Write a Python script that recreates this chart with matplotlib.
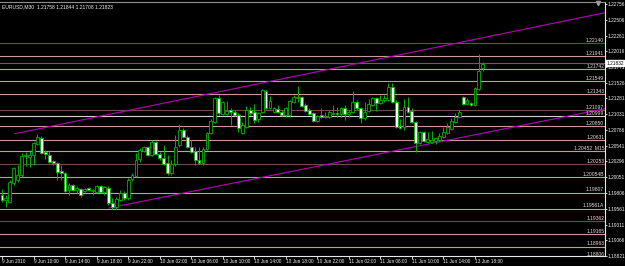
import matplotlib
matplotlib.use("Agg")
import matplotlib.pyplot as plt
import numpy as np

plt.rcParams['font.family'] = ['Liberation Sans', 'DejaVu Sans']

# EURUSD M30 candles
opens = [1.1977, 1.1970, 1.1966, 1.1996, 1.2001, 1.2009, 1.2038, 1.2037, 1.2040, 1.2057,
         1.2066, 1.2044, 1.2040, 1.2030, 1.2027, 1.2015, 1.2012, 1.1985, 1.1993, 1.1985,
         1.1987, 1.1984, 1.1988, 1.1984, 1.1982, 1.1991, 1.1982, 1.1988, 1.1965, 1.1958,
         1.1970, 1.1980, 1.1973, 1.2002, 1.2007, 1.2034, 1.2046, 1.2052, 1.2040, 1.2060,
         1.2041, 1.2035, 1.2027, 1.2012, 1.2026, 1.2055, 1.2079, 1.2068, 1.2052, 1.2046,
         1.2032, 1.2027, 1.2049, 1.2074, 1.2091, 1.2129, 1.2104, 1.2104, 1.2110, 1.2107,
         1.2102, 1.2074, 1.2084, 1.2110, 1.2107, 1.2096, 1.2107, 1.2140, 1.2113, 1.2107,
         1.2112, 1.2107, 1.2102, 1.2102, 1.2123, 1.2129, 1.2130, 1.2118, 1.2110, 1.2105,
         1.2093, 1.2102, 1.2099, 1.2099, 1.2104, 1.2105, 1.2104, 1.2113, 1.2104, 1.2107,
         1.2123, 1.2113, 1.2097, 1.2108, 1.2118, 1.2129, 1.2121, 1.2126, 1.2126, 1.2146,
         1.2123, 1.2085, 1.2084, 1.2115, 1.2108, 1.2091, 1.2058, 1.2076, 1.2060, 1.2060,
         1.2062, 1.2063, 1.2068, 1.2074, 1.2080, 1.2091, 1.2099, 1.2130, 1.2119, 1.2121,
         1.2118, 1.2143, 1.21758]
highs = [1.1987, 1.1977, 1.2001, 1.2021, 1.2024, 1.2043, 1.2044, 1.2048, 1.2060, 1.2073,
         1.2069, 1.2048, 1.2048, 1.2032, 1.2029, 1.2024, 1.2013, 1.1996, 1.1995, 1.1991,
         1.1988, 1.1988, 1.1990, 1.1987, 1.1993, 1.1993, 1.1991, 1.1991, 1.1973, 1.1974,
         1.1985, 1.1984, 1.2004, 1.2012, 1.2043, 1.2051, 1.2054, 1.2054, 1.2063, 1.2062,
         1.2044, 1.2055, 1.2040, 1.2032, 1.2071, 1.2088, 1.2082, 1.2071, 1.2063, 1.2052,
         1.2052, 1.2052, 1.2076, 1.2096, 1.2130, 1.2133, 1.2124, 1.2124, 1.2113, 1.2110,
         1.2105, 1.2091, 1.2116, 1.2115, 1.2119, 1.2107, 1.2143, 1.2141, 1.2132, 1.2115,
         1.2118, 1.2110, 1.2115, 1.2126, 1.2133, 1.2148, 1.2132, 1.2121, 1.2113, 1.2107,
         1.2102, 1.2113, 1.2107, 1.2110, 1.2118, 1.2115, 1.2115, 1.2118, 1.2110, 1.2140,
         1.2126, 1.2115, 1.2123, 1.2127, 1.2130, 1.2130, 1.2133, 1.2133, 1.2152, 1.2152,
         1.2126, 1.2096, 1.2127, 1.2130, 1.2113, 1.2093, 1.2077, 1.2077, 1.2076, 1.2077,
         1.2068, 1.2074, 1.2084, 1.2090, 1.2097, 1.2105, 1.2110, 1.2132, 1.2129, 1.2123,
         1.2146, 1.2198, 1.21844]
lows = [1.1966, 1.1958, 1.1965, 1.1993, 1.1998, 1.2005, 1.2023, 1.2021, 1.2024, 1.2055,
        1.2041, 1.2034, 1.2027, 1.2024, 1.2001, 1.2001, 1.1982, 1.1977, 1.1984, 1.1980,
        1.1974, 1.1982, 1.1984, 1.1977, 1.1980, 1.1980, 1.1977, 1.1962, 1.1955, 1.1955,
        1.1968, 1.1970, 1.1970, 1.1999, 1.2005, 1.2029, 1.2044, 1.2038, 1.2038, 1.2040,
        1.2032, 1.2024, 1.2009, 1.2009, 1.2023, 1.2052, 1.2066, 1.2051, 1.2043, 1.2024,
        1.2026, 1.2024, 1.2048, 1.2073, 1.2090, 1.2102, 1.2102, 1.2102, 1.2087, 1.2101,
        1.2076, 1.2073, 1.2082, 1.2102, 1.2090, 1.2091, 1.2105, 1.2112, 1.2112, 1.2105,
        1.2105, 1.2101, 1.2099, 1.2099, 1.2121, 1.2123, 1.2115, 1.2107, 1.2102, 1.2091,
        1.2091, 1.2097, 1.2097, 1.2097, 1.2102, 1.2099, 1.2099, 1.2094, 1.2099, 1.2105,
        1.2110, 1.2090, 1.2094, 1.2107, 1.2116, 1.2108, 1.2119, 1.2123, 1.2124, 1.2121,
        1.2082, 1.2080, 1.2079, 1.2105, 1.2090, 1.2044, 1.2057, 1.2060, 1.2058, 1.2058,
        1.2057, 1.2060, 1.2066, 1.2073, 1.2079, 1.2090, 1.2097, 1.2118, 1.2118, 1.2116,
        1.2116, 1.2141, 1.21708]
closes = [1.1970, 1.1973, 1.1998, 1.2019, 1.2009, 1.2038, 1.2040, 1.2040, 1.2058, 1.2068,
          1.2043, 1.2041, 1.2029, 1.2027, 1.2013, 1.2012, 1.1984, 1.1993, 1.1985, 1.1988,
          1.1977, 1.1987, 1.1985, 1.1985, 1.1991, 1.1982, 1.1990, 1.1965, 1.1958, 1.1971,
          1.1980, 1.1973, 1.2001, 1.2009, 1.2032, 1.2048, 1.2052, 1.2040, 1.2060, 1.2041,
          1.2035, 1.2026, 1.2012, 1.2026, 1.2052, 1.2079, 1.2068, 1.2052, 1.2044, 1.2032,
          1.2027, 1.2049, 1.2074, 1.2093, 1.2129, 1.2105, 1.2123, 1.2108, 1.2107, 1.2102,
          1.2082, 1.2087, 1.2110, 1.2105, 1.2094, 1.2105, 1.2141, 1.2113, 1.2124, 1.2113,
          1.2107, 1.2102, 1.2113, 1.2124, 1.2130, 1.2130, 1.2116, 1.2108, 1.2104, 1.2093,
          1.2101, 1.2099, 1.2101, 1.2107, 1.2105, 1.2104, 1.2113, 1.2104, 1.2107, 1.2123,
          1.2113, 1.2097, 1.2107, 1.2119, 1.2129, 1.2121, 1.2126, 1.2129, 1.2146, 1.2123,
          1.2084, 1.2082, 1.2115, 1.2107, 1.2091, 1.2058, 1.2076, 1.2062, 1.2065, 1.2063,
          1.2066, 1.2069, 1.2076, 1.2084, 1.2093, 1.2099, 1.2107, 1.2119, 1.2126, 1.2118,
          1.2144, 1.2171, 1.21823]

# horizontal levels drawn on the chart
level_prices = [1.22140, 1.21941, 1.21742, 1.21549, 1.21343, 1.21097, 1.20999, 1.20850,
                1.20631, 1.20452, 1.20253, 1.20054, 1.19807, 1.19561, 1.19362, 1.19165,
                1.18963, 1.18806]
level_labels = ["1.22140", "1.21941", "1.21742", "1.21549", "1.21343", "1.21097", "1.20999",
                "1.20850", "1.20631", "1.20452  M15", "1.20253", "1.20054B", "1.19807",
                "1.19561A", "1.19362", "1.19165", "1.18963", "1.18806"]
level_kind = ["dark", "pink", "pink", "pink", "pink", "dark", "light", "pink", "pink", "pink",
              "dark", "pink", "pink", "pink", "dark", "pink", "pink", "light"]

# trend channel (bar index, price)
upper_trend = [(3.3, 1.2073), (153.0, 1.2262)]
lower_trend = [(27.2, 1.1957), (153.0, 1.2112)]

bid = 1.21832
price_ticks = [1.22756, 1.22506, 1.22261, 1.22016, 1.21771, 1.21526, 1.21281, 1.21031,
               1.20786, 1.20541, 1.20296, 1.20051, 1.19806, 1.19561, 1.19311, 1.19066, 1.18821]
time_labels = ["9 Jun 2010", "9 Jun 10:00", "9 Jun 14:00", "9 Jun 18:00", "9 Jun 22:00",
               "10 Jun 02:00", "10 Jun 06:00", "10 Jun 10:00", "10 Jun 14:00", "10 Jun 18:00",
               "10 Jun 22:00", "11 Jun 02:00", "11 Jun 06:00", "11 Jun 10:00", "11 Jun 14:00",
               "13 Jun 18:00"]
bars_per_label = 8

level_colors = {"pink": "#c99a9a", "dark": "#6e4c4c", "light": "#d8d0d0"}
green = "#00b400"
fs = 3.6       # labels inside the chart
fs_axis = 3.45  # price scale, must fit in the 20 px strip

fig = plt.figure(figsize=(6.25, 2.66), dpi=100, facecolor="black")
ax = fig.add_axes([0.0, 1 - 256 / 266, 605 / 625, 254 / 266])
ax.set_facecolor("black")

xlim = (-0.5, 153.0)
ax.set_xlim(*xlim)
ax.set_ylim(1.18819, 1.22787)

for p, lab, kind in zip(level_prices, level_labels, level_kind):
    ax.axhline(p, color=level_colors[kind], lw=0.8, zorder=1)
    ax.text(xlim[1] - 0.2, p + 0.00005, lab, color="#e8d8d8", fontsize=fs,
            ha="right", va="bottom", zorder=5)

ax.axhline(bid, color="#56646e", lw=0.8, zorder=1)

for pts in (upper_trend, lower_trend):
    xs = [q[0] for q in pts]
    ys = [q[1] for q in pts]
    ax.plot(xs, ys, color="#b800b8", lw=0.8, zorder=2)

idx = np.arange(len(closes))
o = np.array(opens)
h = np.array(highs)
lo = np.array(lows)
c = np.array(closes)
ax.vlines(idx, lo, h, color=green, lw=0.7, zorder=3)
up = c >= o
body = np.maximum(np.abs(c - o), 0.00003)
bottom = np.minimum(o, c)
ax.bar(idx[up], body[up], bottom=bottom[up], width=0.72, facecolor="black",
       edgecolor=green, lw=0.6, zorder=4)
ax.bar(idx[~up], body[~up], bottom=bottom[~up], width=0.72, facecolor="white",
       edgecolor=green, lw=0.6, zorder=4)

# axes styling, MT4 look
ax.yaxis.tick_right()
ax.set_yticks(price_ticks)
ax.set_yticklabels([f"{t:.5f}" for t in price_ticks])
ax.tick_params(axis="y", colors="#f0f0f0", labelsize=fs_axis, length=1.5, width=0.6, pad=0.4)
tick_pos = [i * bars_per_label for i in range(len(time_labels))]
ax.set_xticks(tick_pos)
ax.set_xticklabels(time_labels, ha="left")
ax.tick_params(axis="x", colors="#f0f0f0", labelsize=fs_axis, length=2, width=0.6, pad=0.5)
ax.spines["left"].set_visible(False)
ax.spines["top"].set_color("#909090")
ax.spines["right"].set_color("#e8e8e8")
ax.spines["bottom"].set_color("#e8e8e8")
for sp in ("top", "right", "bottom"):
    ax.spines[sp].set_linewidth(0.8)

# current price box on the scale
ax.annotate(f"{bid:.5f}", xy=(1.0, bid), xycoords=("axes fraction", "data"),
            xytext=(0.8, 0), textcoords="offset points", fontsize=fs_axis, color="black",
            va="center", ha="left",
            bbox=dict(boxstyle="square,pad=0.1", fc="white", ec="white"))

# chart shift marker
ax.plot([0.988], [0.995], marker="v", ms=3, color="#a0a0a0", transform=ax.transAxes,
        clip_on=False)

fig.text(0.004, 1 - 7 / 266, "EURUSD,M30  1.21758 1.21844 1.21708 1.21823",
         color="#f0f0f0", fontsize=fs, ha="left", va="center")

fig.savefig("out.png", dpi=100, facecolor="black")
